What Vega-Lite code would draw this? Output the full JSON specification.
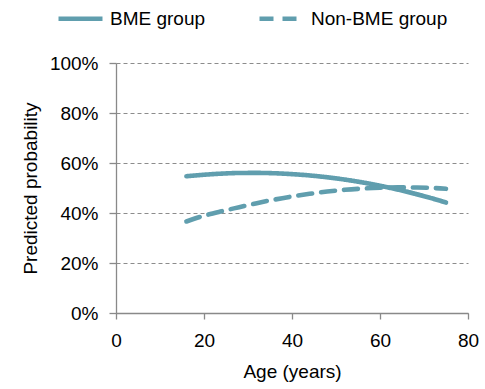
{
  "$schema": "https://vega.github.io/schema/vega-lite/v6.json",
  "width": 352,
  "height": 250,
  "autosize": {"type": "none"},
  "padding": {"left": 116, "top": 63, "right": 17, "bottom": 76},
  "background": "white",
  "config": {
    "view": {"stroke": null},
    "font": "Liberation Sans",
    "axis": {
      "labelFont": "Liberation Sans",
      "titleFont": "Liberation Sans",
      "labelFontSize": 19,
      "titleFontSize": 19,
      "labelColor": "#000",
      "titleColor": "#000",
      "titleFontWeight": "normal",
      "domainColor": "#898989",
      "tickColor": "#898989",
      "domainWidth": 1.3,
      "tickWidth": 1.3
    },
    "legend": {
      "labelFont": "Liberation Sans",
      "labelFontSize": 19,
      "labelColor": "#000"
    }
  },
  "data": {
    "values": [
      {"age": 16, "p": 0.547, "group": "BME group"},
      {"age": 20, "p": 0.553, "group": "BME group"},
      {"age": 24, "p": 0.5575, "group": "BME group"},
      {"age": 28, "p": 0.560, "group": "BME group"},
      {"age": 32, "p": 0.5604, "group": "BME group"},
      {"age": 36, "p": 0.559, "group": "BME group"},
      {"age": 40, "p": 0.5555, "group": "BME group"},
      {"age": 44, "p": 0.5502, "group": "BME group"},
      {"age": 48, "p": 0.5429, "group": "BME group"},
      {"age": 52, "p": 0.5336, "group": "BME group"},
      {"age": 56, "p": 0.5223, "group": "BME group"},
      {"age": 60, "p": 0.509, "group": "BME group"},
      {"age": 64, "p": 0.4938, "group": "BME group"},
      {"age": 68, "p": 0.4766, "group": "BME group"},
      {"age": 72, "p": 0.4575, "group": "BME group"},
      {"age": 75, "p": 0.4419, "group": "BME group"},
      {"age": 16, "p": 0.366, "group": "Non-BME group"},
      {"age": 20, "p": 0.389, "group": "Non-BME group"},
      {"age": 24, "p": 0.407, "group": "Non-BME group"},
      {"age": 28, "p": 0.4233, "group": "Non-BME group"},
      {"age": 32, "p": 0.4394, "group": "Non-BME group"},
      {"age": 36, "p": 0.4536, "group": "Non-BME group"},
      {"age": 40, "p": 0.466, "group": "Non-BME group"},
      {"age": 44, "p": 0.4768, "group": "Non-BME group"},
      {"age": 48, "p": 0.4857, "group": "Non-BME group"},
      {"age": 52, "p": 0.4927, "group": "Non-BME group"},
      {"age": 56, "p": 0.4978, "group": "Non-BME group"},
      {"age": 60, "p": 0.501, "group": "Non-BME group"},
      {"age": 64, "p": 0.5025, "group": "Non-BME group"},
      {"age": 68, "p": 0.502, "group": "Non-BME group"},
      {"age": 72, "p": 0.5003, "group": "Non-BME group"},
      {"age": 75, "p": 0.4967, "group": "Non-BME group"}
    ]
  },
  "mark": {"type": "line", "strokeWidth": 4.6, "strokeCap": "round", "interpolate": "monotone"},
  "encoding": {
    "x": {
      "field": "age",
      "type": "quantitative",
      "scale": {"domain": [0, 80], "nice": false},
      "axis": {
        "values": [0, 20, 40, 60, 80],
        "title": "Age (years)",
        "grid": false,
        "tickSize": 6,
        "labelPadding": 12,
        "labelFlush": false,
        "titleY": 58,
        "titleBaseline": "middle"
      }
    },
    "y": {
      "field": "p",
      "type": "quantitative",
      "scale": {"domain": [0, 1], "nice": false},
      "axis": {
        "values": [0, 0.2, 0.4, 0.6, 0.8, 1],
        "format": ".0%",
        "title": "Predicted probability",
        "tickSize": 7,
        "labelPadding": 11,
        "labelFlush": false,
        "grid": true,
        "gridColor": "#8c8c8c",
        "gridDash": [4, 3],
        "gridWidth": 1,
        "titleX": -86,
        "titleY": 125,
        "titleAngle": 270,
        "titleAlign": "center",
        "titleBaseline": "middle"
      }
    },
    "color": {
      "field": "group",
      "type": "nominal",
      "scale": {"domain": ["BME group", "Non-BME group"], "range": ["#609EAE", "#609EAE"]},
      "legend": {
        "title": null,
        "orient": "none",
        "legendX": -60,
        "legendY": -69,
        "direction": "horizontal",
        "columns": 2,
        "columnPadding": 44,
        "symbolType": "stroke",
        "symbolSize": 1936,
        "symbolStrokeWidth": 4.6,
        "labelOffset": 5
      }
    },
    "strokeDash": {
      "field": "group",
      "type": "nominal",
      "scale": {"domain": ["BME group", "Non-BME group"], "range": [[1, 0], [14, 9]]},
      "legend": null
    }
  }
}
